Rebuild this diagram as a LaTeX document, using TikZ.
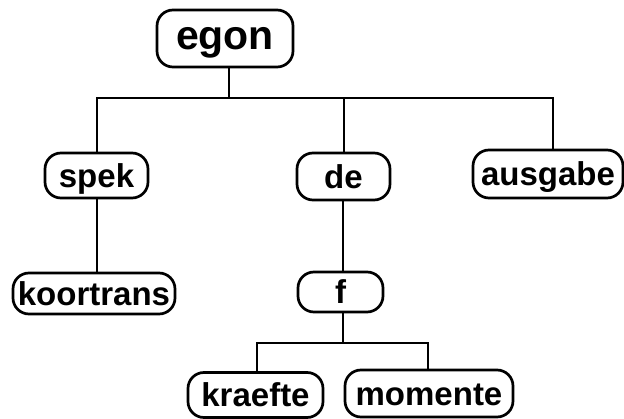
\documentclass[tikz,border=0pt]{standalone}
\usepackage{fontspec}
\setmainfont{Liberation Sans}
\begin{document}
\begin{tikzpicture}[x=1pt,y=-1pt,
  box/.style={draw, line width=2.7pt, rounded corners=16pt, inner sep=0pt,
    text height=23.5pt, text depth=0pt,
    font=\bfseries\fontsize{33}{39}\selectfont},
  link/.style={line width=2.9pt}]
\useasboundingbox (0,0) rectangle (624,419);
% top level
\node[box, minimum width=136pt, minimum height=57pt, text height=21.5pt,
  font=\bfseries\fontsize{41}{48}\selectfont] (egon) at (225,38.5) {egon};
% second level
\node[box, minimum width=103pt, minimum height=45pt] (spek) at (96.5,175.5) {spek};
\node[box, minimum width=93pt, minimum height=47pt] (de) at (343.5,176.5) {de};
\node[box, minimum width=150pt, minimum height=48pt] (ausgabe) at (548,174) {ausgabe};
% third level
\node[box, minimum width=162pt, minimum height=41pt] (koortrans) at (94,293.5) {koortrans};
\node[box, minimum width=85pt, minimum height=40pt] (f) at (340.5,292) {f};
% fourth level
\node[box, minimum width=135pt, minimum height=45pt] (kraefte) at (255.5,395) {kraefte};
\node[box, minimum width=168pt, minimum height=47pt] (momente) at (429,393.5) {momente};
% connectors
\coordinate (j1) at (229,98);
\coordinate (j2) at (343,343);
\draw[link] (egon.south -| j1) -- (j1);
\draw[link] (j1) -| (spek.north -| 97,0);
\draw[link] (j1) -| (ausgabe.north -| 553,0);
\draw[link] (j1 -| 344,0) -- (de.north -| 344,0);
\draw[link] (spek.south -| 97,0) -- (koortrans.north -| 97,0);
\draw[link] (de.south -| 343,0) -- (f.north -| 343,0);
\draw[link] (f.south -| j2) -- (j2);
\draw[link] (j2) -| (kraefte.north -| 257,0);
\draw[link] (j2) -| (momente.north -| 428,0);
\end{tikzpicture}
\end{document}
